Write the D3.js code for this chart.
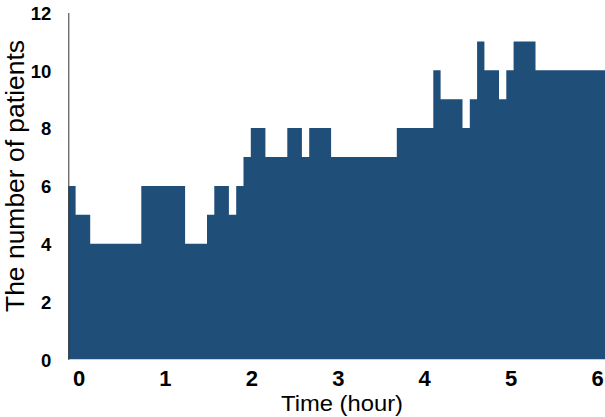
<!DOCTYPE html>
<meta charset="utf-8">
<script src="https://d3js.org/d3.v7.min.js"></script>
<style>
  body { margin: 0; background: #fff; }
  text { font-family: "Liberation Sans", Arial, sans-serif; fill: #000; }
</style>
<div id="chart"></div>
<script>

// patients present in each 5-minute bin (bin 1 is centred on hour 0)
var counts = [6, 5, 5, 4, 4, 4, 4, 4, 4, 4,
              6, 6, 6, 6, 6, 6, 4, 4, 4, 5,
              6, 6, 5, 6, 7, 8, 8, 7, 7, 7,
              8, 8, 7, 8, 8, 8, 7, 7, 7, 7,
              7, 7, 7, 7, 7, 8, 8, 8, 8, 8,
              10, 9, 9, 9, 8, 9, 11, 10, 10, 9,
              10, 11, 11, 11, 10, 10, 10, 10, 10, 10,
              10, 10, 10, 10];
var hourTicks = [0, 1, 2, 3, 4, 5, 6];
var yTicks = [0, 2, 4, 6, 8, 10, 12];

var width = 605, height = 417;

var svg = d3.select("#chart")
  .append("svg")
    .attr("width", width)
    .attr("height", height);

// bins are a little under 1/12 hour wide in the picture, so they get their own scale
var xBin = d3.scaleLinear()
  .domain([0, counts.length])
  .range([68.3, 68.3 + counts.length * 7.3]);

var xTime = d3.scaleLinear()
  .domain([0, 6])
  .range([78.5, 597]);

var y = d3.scaleLinear()
  .domain([0, 12])
  .range([359.3, 12.5]);

// step area
var pts = counts.map(function(v, i) { return [i, v]; });
pts.push([counts.length, counts[counts.length - 1]]);

var area = d3.area()
  .curve(d3.curveStepAfter)
  .x(function(d) { return xBin(d[0]); })
  .y0(y(0))
  .y1(function(d) { return y(d[1]); });

svg.append("path")
  .datum(pts)
  .attr("d", area)
  .attr("fill", "#1f4e79");

// Y axis
var yAxis = svg.append("g")
  .attr("transform", "translate(68.3,0)")
  .call(d3.axisLeft(y).tickValues(yTicks).tickSize(0).tickPadding(17));
yAxis.select(".domain").attr("stroke", "#333").attr("stroke-width", 1);
yAxis.selectAll("text")
  .attr("dy", 6.8)
  .style("font-size", "18.5px")
  .style("font-weight", "bold")
  .style("font-family", "'Liberation Sans', Arial, sans-serif")
  .attr("fill", "#000");

// X axis (labels only)
var xAxis = svg.append("g")
  .call(d3.axisBottom(xTime).tickValues(hourTicks).tickSize(0).tickFormat(d3.format("d")));
xAxis.select(".domain").remove();
xAxis.selectAll("text")
  .attr("y", 386)
  .attr("dy", 0)
  .style("font-size", "22px")
  .style("font-weight", "bold")
  .style("font-family", "'Liberation Sans', Arial, sans-serif")
  .attr("fill", "#000");

// axis titles
svg.append("text")
  .attr("x", 342)
  .attr("y", 411)
  .attr("text-anchor", "middle")
  .attr("textLength", 122)
  .attr("lengthAdjust", "spacingAndGlyphs")
  .style("font-size", "22.5px")
  .text("Time (hour)");

svg.append("text")
  .attr("transform", "translate(23.5,176) rotate(-90)")
  .attr("text-anchor", "middle")
  .attr("textLength", 272)
  .attr("lengthAdjust", "spacingAndGlyphs")
  .style("font-size", "25px")
  .text("The number of patients");

</script>
